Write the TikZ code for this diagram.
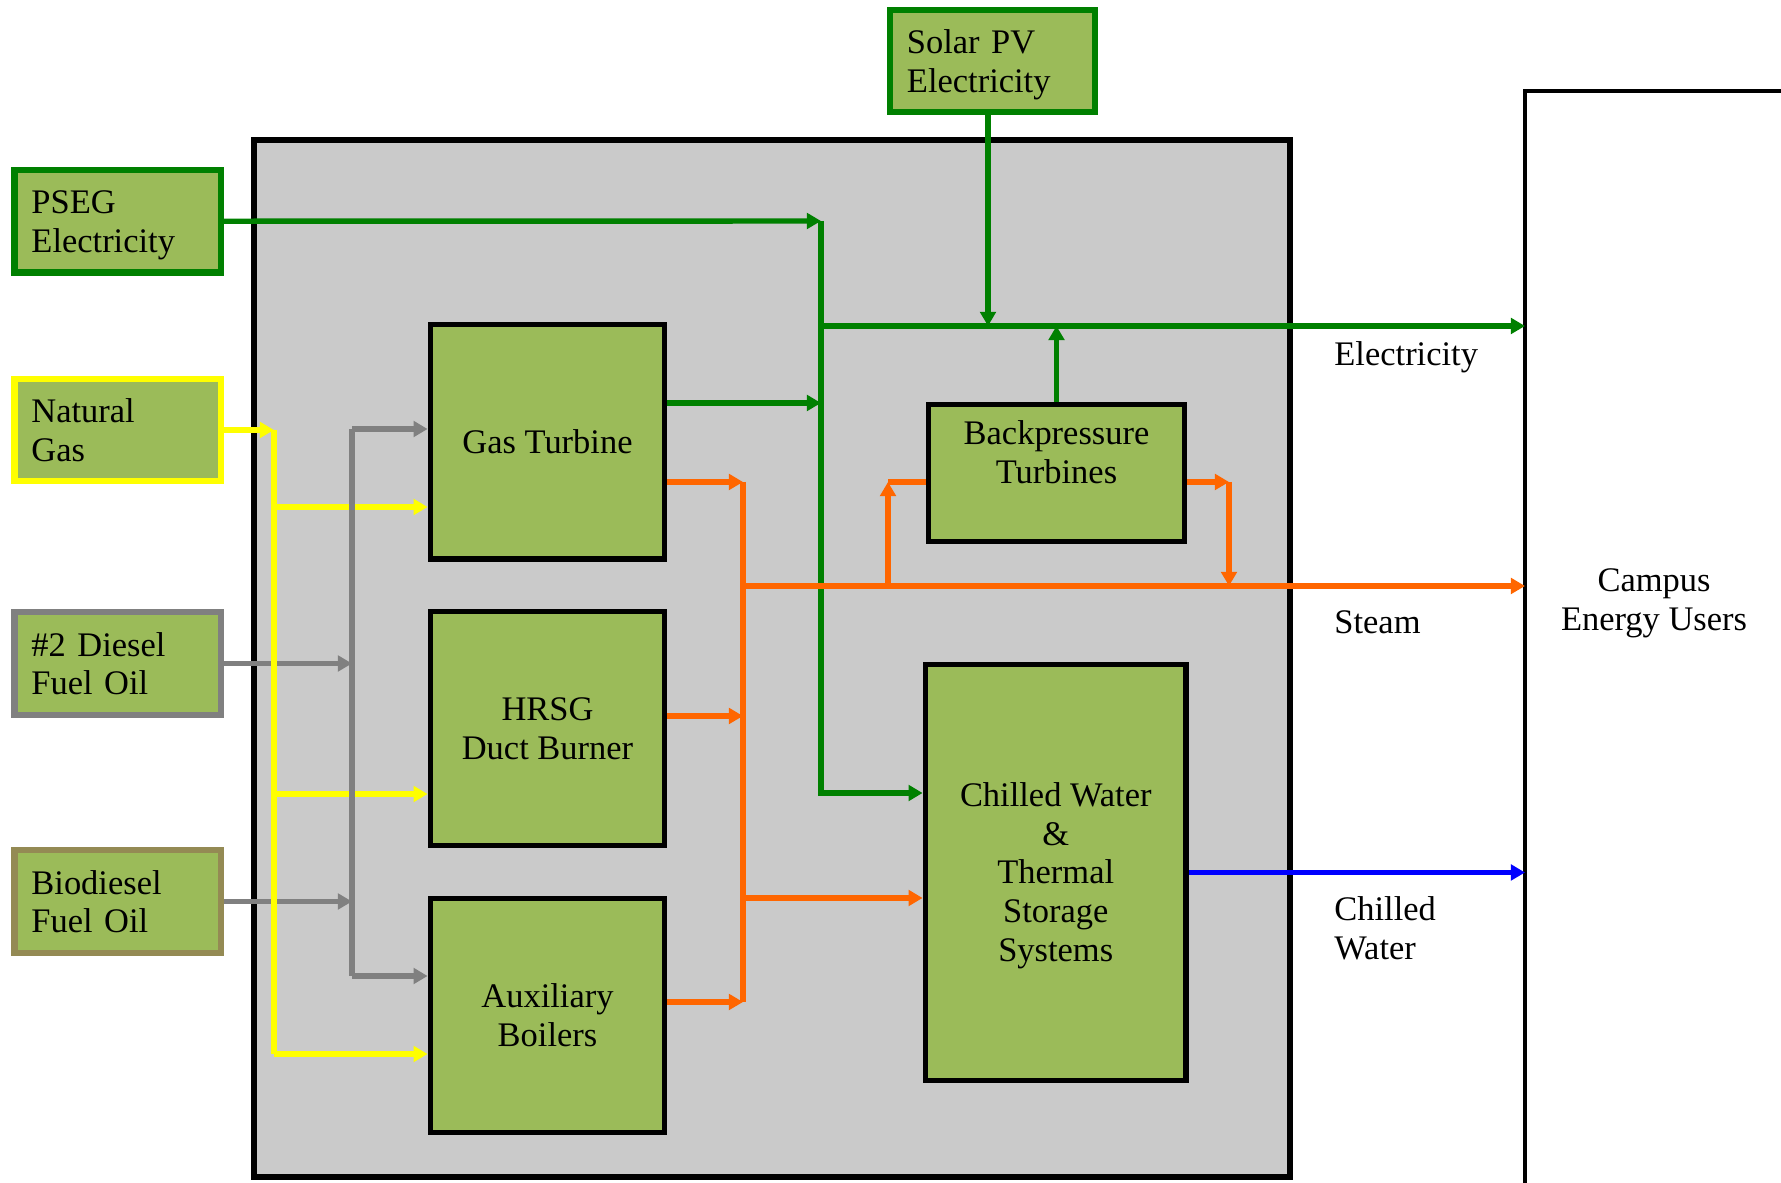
\documentclass[tikz,border=0pt]{standalone}
\usepackage{fontspec}
\setmainfont{Liberation Serif}
\usetikzlibrary{arrows.meta}
\definecolor{boxgreen}{HTML}{9BBB59}
\definecolor{elecgreen}{HTML}{008000}
\definecolor{fuelyellow}{HTML}{FFFF00}
\definecolor{fuelgray}{HTML}{808080}
\definecolor{steamorange}{HTML}{FF6600}
\definecolor{cwblue}{HTML}{0000FF}
\definecolor{plantgray}{HTML}{CACACA}
\definecolor{biotan}{HTML}{948A54}
\newcommand{\topstrut}{\rule{0pt}{9pt}}
\newcommand{\botstrut}{\rule[-2.2pt]{0pt}{2.2pt}}
\tikzset{
  txt/.style={font=\fontsize{9.8}{11}\selectfont},
  srcbox/.style={txt, draw, fill=boxgreen, line width=1.8pt, align=left,
    inner xsep=0.17cm, inner ysep=0pt, text width=1.725cm, minimum height=1.025cm},
  unitbox/.style={txt, draw, fill=boxgreen, line width=1.6pt, align=center, inner sep=0pt},
  flow/.style={line width=1.55pt, -{Triangle[length=4pt,width=4.4pt]}},
  seg/.style={line width=1.55pt},
}
\begin{document}
\begin{tikzpicture}[x=0.01cm, y=-0.01cm]
\useasboundingbox (0,0) rectangle (1781,1183);
\clip (0,0) rectangle (1781,1183);
% plant
\node[draw, fill=plantgray, line width=1.6pt, minimum width=10.36cm, minimum height=10.36cm, inner sep=0] (plant) at (772,658.5) {};
% campus
\node[draw, line width=1.3pt, minimum width=3cm, minimum height=12cm, anchor=north west, inner sep=0, outer sep=0] (campus) at (1525,91) {};
\node[txt, align=center] (campuslbl) at (1654,603.5) {Campus\\Energy Users};
% sources
\node[srcbox, draw=elecgreen] (pseg) at (117.75,221.25) {\topstrut PSEG\\Electricity\botstrut};
\node[srcbox, draw=fuelyellow, minimum height=1.02cm] (ng) at (117.75,430) {\topstrut Natural\\Gas\botstrut};
\node[srcbox, draw=fuelgray] (diesel) at (117.75,663.5) {\topstrut\#2 Diesel\\Fuel Oil\botstrut};
\node[srcbox, draw=biotan] (bio) at (117.75,901.5) {\topstrut Biodiesel\\Fuel Oil\botstrut};
\node[srcbox, draw=elecgreen, text width=1.71cm, minimum height=1.015cm] (solar) at (992.5,61) {\topstrut Solar PV\\Electricity\botstrut};
% units
\node[unitbox, minimum width=2.34cm, minimum height=2.345cm] (gt) at (547.5,442) {Gas Turbine};
\node[unitbox, minimum width=2.34cm, minimum height=2.34cm] (hrsg) at (547.5,728.5) {HRSG\\Duct Burner};
\node[unitbox, minimum width=2.34cm, minimum height=2.34cm] (aux) at (547.5,1015.5) {Auxiliary\\Boilers};
\node[unitbox, minimum width=2.56cm, minimum height=1.37cm] (bpt) at (1056.5,473) {};
\node[txt, align=center] (bptlbl) at (1056.5,452) {Backpressure\\Turbines};
\node[unitbox, minimum width=2.605cm, minimum height=4.16cm] (cw) at (1055.75,872.5) {\rule{0pt}{8.5pt}Chilled Water\\\&\\Thermal\\Storage\\Systems};
% junction coordinates
\coordinate (gv) at (821,221);
\coordinate (ej) at (821,326);
\coordinate (gb) at (821,793);
\coordinate (sj) at (988,326);
\coordinate (ot) at (743,482);
\coordinate (ob) at (743,1002);
\coordinate (sv) at (743,586);
\coordinate (ocw) at (743,898);
\coordinate (bl) at (888,482);
\coordinate (bls) at (888,586);
\coordinate (br) at (1229,482);
\coordinate (brs) at (1229,586);
\coordinate (yt) at (274,430);
\coordinate (yb) at (274,1054);
\coordinate (gyt) at (352,429);
\coordinate (gyb) at (352,976);
% gray fuel inputs (under yellow)
\draw[flow, fuelgray] (diesel.east) -- (diesel.east -| gyt);
\draw[flow, fuelgray] (bio.east) -- (bio.east -| gyt);
% yellow natural gas
\draw[flow, fuelyellow] (ng.east) -- (yt);
\draw[seg, fuelyellow] (yt) -- (yb);
\draw[flow, fuelyellow] (274,507) -- (gt.west |- 274,507);
\draw[flow, fuelyellow] (274,794) -- (hrsg.west |- 274,794);
\draw[flow, fuelyellow] (yb) -- (aux.west |- yb);
% gray distribution
\draw[seg, fuelgray] (gyt) -- (gyb);
\draw[flow, fuelgray] (gyt) -- (gt.west |- gyt);
\draw[flow, fuelgray] (gyb) -- (aux.west |- gyb);
% electricity
\draw[flow, elecgreen] (pseg.east) -- (gv);
\draw[flow, elecgreen] (gv) -- (gb) -- (cw.west |- gb);
\draw[flow, elecgreen] (gt.east |- 0,403) -- (821,403);
\draw[flow, elecgreen] (ej) -- (campus.west |- ej);
\draw[flow, elecgreen] (solar.south -| sj) -- (sj);
\draw[flow, elecgreen] (bpt.north) -- (bpt.north |- ej);
% steam
\draw[flow, steamorange] (gt.east |- ot) -- (ot);
\draw[flow, steamorange] (hrsg.east |- 0,716) -- (743,716);
\draw[flow, steamorange] (aux.east |- ob) -- (ob);
\draw[seg, steamorange] (ot) -- (ob);
\draw[flow, steamorange] (sv) -- (campus.west |- sv);
\draw[flow, steamorange] (ocw) -- (cw.west |- ocw);
\draw[flow, steamorange] (bls) -- (bl);
\draw[seg, steamorange] (bl) -- (bpt.west |- bl);
\draw[flow, steamorange] (bpt.east |- br) -- (br);
\draw[flow, steamorange] (br) -- (brs);
% chilled water
\draw[flow, cwblue] (cw.east) -- (campus.west |- cw.east);
% labels
\node[txt, anchor=west] (elbl) at (1322,357) {Electricity};
\node[txt, anchor=west] (slbl) at (1322,622) {Steam};
\node[txt, anchor=west, align=left] (cwlbl) at (1322,928) {Chilled\\Water};
\end{tikzpicture}
\end{document}
